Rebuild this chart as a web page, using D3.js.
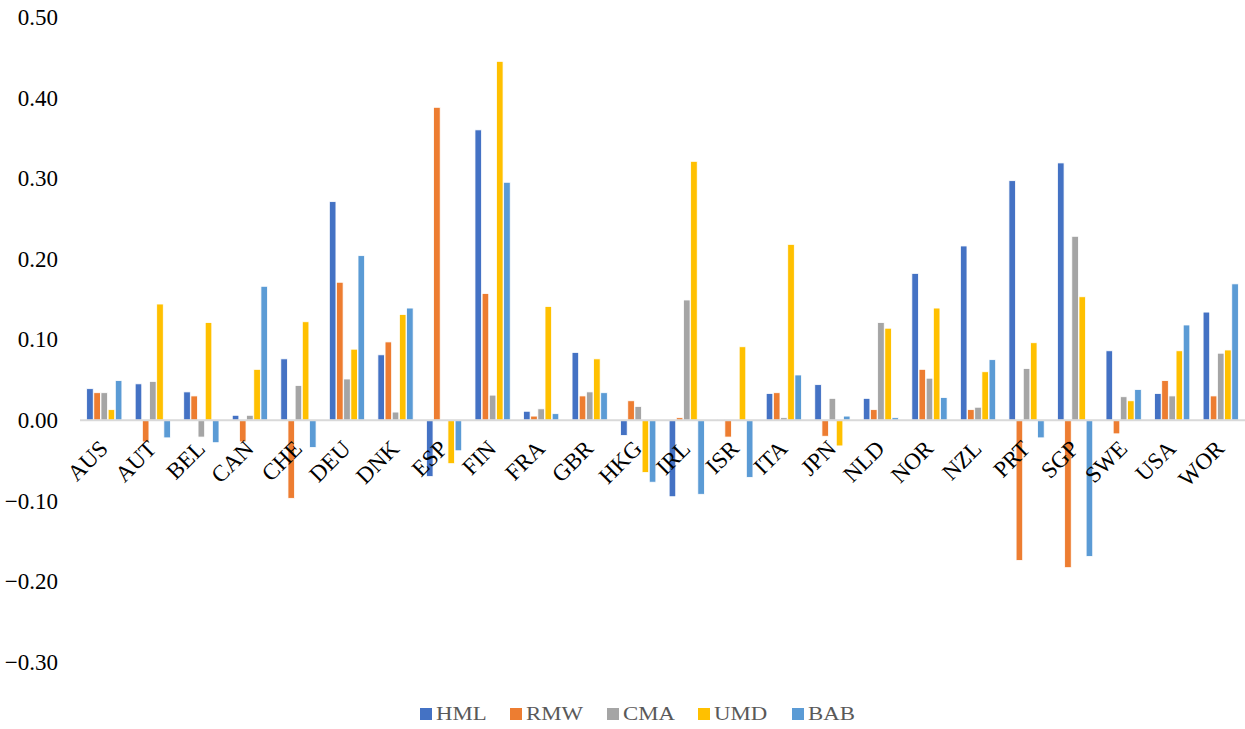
<!DOCTYPE html>
<meta charset="utf-8">
<script src="https://cdn.jsdelivr.net/npm/d3@7"></script>
<html>
<head>
<style>
  body { margin: 0; background: #fff; }
  text { font-family: "Liberation Serif", "Times New Roman", serif; }
</style>
</head>
<body>
<div id="chart"></div>
<script>

// countries on the x axis
var countries = ["AUS","AUT","BEL","CAN","CHE","DEU","DNK","ESP","FIN","FRA","GBR","HKG",
                 "IRL","ISR","ITA","JPN","NLD","NOR","NZL","PRT","SGP","SWE","USA","WOR"];

var series = ["HML","RMW","CMA","UMD","BAB"];
var colors = ["#4472C4","#ED7D31","#A5A5A5","#FFC000","#5B9BD5"];

// values
var HML = [0.039,0.045,0.035,0.006,0.076,0.271,0.081,-0.070,0.360,0.011,0.084,-0.019,
           -0.095,0.001,0.033,0.044,0.027,0.182,0.216,0.297,0.319,0.086,0.033,0.134];
var RMW = [0.034,-0.027,0.030,-0.027,-0.097,0.171,0.097,0.388,0.157,0.005,0.030,0.024,
           0.003,-0.021,0.034,-0.020,0.013,0.063,0.013,-0.174,-0.183,-0.017,0.049,0.030];
var CMA = [0.034,0.048,-0.021,0.006,0.043,0.051,0.010,0.001,0.031,0.014,0.035,0.017,
           0.149,0.001,0.003,0.027,0.121,0.052,0.016,0.064,0.228,0.029,0.030,0.083];
var UMD = [0.013,0.144,0.121,0.063,0.122,0.088,0.131,-0.054,0.445,0.141,0.076,-0.065,
           0.321,0.091,0.218,-0.032,0.114,0.139,0.060,0.096,0.153,0.024,0.086,0.087];
var BAB = [0.049,-0.022,-0.028,0.166,-0.034,0.204,0.139,-0.038,0.295,0.008,0.034,-0.077,
           -0.092,-0.071,0.056,0.005,0.003,0.028,0.075,-0.022,-0.169,0.038,0.118,0.169];

var yTicks = [-0.3,-0.2,-0.1,0,0.1,0.2,0.3,0.4,0.5];

var values = [HML, RMW, CMA, UMD, BAB];

var W = 1245, H = 729;
var svg = d3.select("#chart").append("svg")
    .attr("width", W).attr("height", H);

var x0 = d3.scaleBand().domain(countries).range([80, 1245]).paddingInner(0.25).paddingOuter(0.125);
var x1 = d3.scaleBand().domain(series).range([0, x0.bandwidth()]).padding(0.08);
var y = d3.scaleLinear().domain([-0.3, 0.5]).range([662, 17]);

// y axis labels only
svg.append("g")
    .attr("transform", "translate(80,0)")
    .call(d3.axisLeft(y).tickValues(yTicks).tickSize(0).tickPadding(22).tickFormat(d3.format(".2f")))
    .call(function(g) { g.select(".domain").remove(); })
    .attr("font-family", null)
    .selectAll("text")
      .style("font-size", "23px")
      .style("font-family", "'Liberation Serif', 'Times New Roman', serif")
      .attr("fill", "#000");

// bars
var groups = svg.append("g").selectAll("g")
  .data(countries)
  .join("g")
    .attr("transform", function(d) { return "translate(" + x0(d) + ",0)"; });

groups.selectAll("rect")
  .data(function(c, i) { return series.map(function(s, j) { return {s: s, v: values[j][i], c: colors[j]}; }); })
  .join("rect")
    .attr("x", function(d) { return x1(d.s); })
    .attr("y", function(d) { return y(Math.max(0, d.v)); })
    .attr("width", x1.bandwidth())
    .attr("height", function(d) { return Math.abs(y(d.v) - y(0)); })
    .attr("fill", function(d) { return d.c; })
    .attr("stroke", "#fff")
    .attr("stroke-width", 0.8);

// zero line
svg.append("line")
    .attr("x1", 80).attr("x2", 1245)
    .attr("y1", y(0)).attr("y2", y(0))
    .attr("stroke", "#D9D9D9")
    .attr("stroke-width", 2);

// category labels, rotated
svg.append("g").selectAll("text")
  .data(countries)
  .join("text")
    .attr("transform", function(d) { return "translate(" + (x0(d) + x0.bandwidth() / 2 + 5) + "," + 450 + ") rotate(-45)"; })
    .attr("text-anchor", "end")
    .style("font-size", "23px")
    .attr("fill", "#000")
    .text(function(d) { return d; });

// legend
var legX = [420, 510, 607, 698, 792];
var leg = svg.append("g").selectAll("g")
  .data(series)
  .join("g")
    .attr("transform", function(d, i) { return "translate(" + legX[i] + ",708)"; });
leg.append("rect")
    .attr("width", 12).attr("height", 12)
    .attr("fill", function(d, i) { return colors[i]; });
leg.append("text")
    .attr("x", 16).attr("y", 12)
    .style("font-size", "19px")
    .attr("fill", "#595959")
    .text(function(d) { return d; })
    .each(function() {
      var len = this.getComputedTextLength();
      d3.select(this).attr("textLength", len * 1.2).attr("lengthAdjust", "spacingAndGlyphs");
    });

</script>
</body>
</html>
